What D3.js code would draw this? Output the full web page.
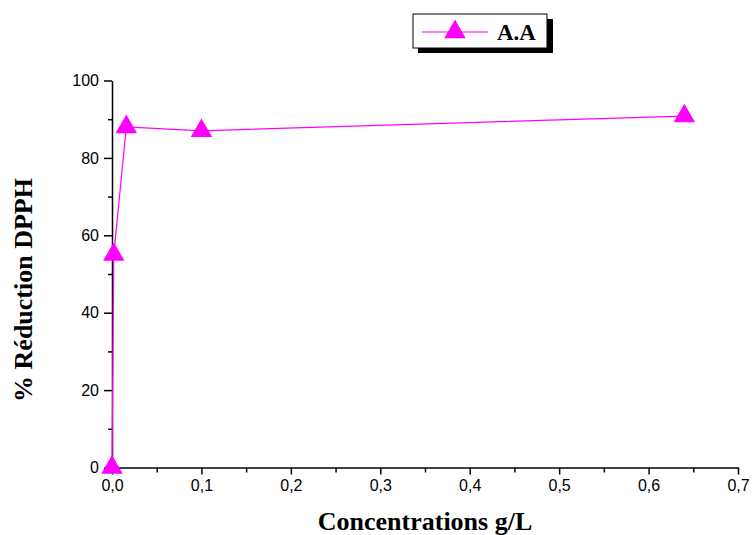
<!doctype html>
<html lang="en">
<head>
    <meta charset="utf-8">
    <title>DPPH</title>
    <script src="https://cdn.jsdelivr.net/npm/d3@7"></script>
    <style>
        body { margin: 0; background: #fff; }
        svg { display: block; }
        .tick text { font-family: Arial, "Liberation Sans", sans-serif; font-size: 16px; fill: #000; }
        .axis path, .axis line { stroke: #000; stroke-width: 1.5px; }
    </style>
</head>
<body>
    <svg width="753" height="535"></svg>
    <script>
        // data
        var concentrations = [0, 0.002, 0.016, 0.1, 0.64];
        var reduction = [0, 55, 88, 87, 90.8];
        var seriesName = "A.A";
        var xTicks = [0, 0.1, 0.2, 0.3, 0.4, 0.5, 0.6, 0.7];
        var yTicks = [0, 20, 40, 60, 80, 100];

        var magenta = "#ff00ff";
        var svg = d3.select("svg");

        var x = d3.scaleLinear().domain([0, 0.7]).range([112, 738]);
        var y = d3.scaleLinear().domain([0, 100]).range([467.5, 80.5]);

        var fmtX = function (d) { return d3.format(".1f")(d).replace(".", ","); };

        // minor ticks
        svg.append("g")
            .attr("class", "axis")
            .attr("transform", "translate(0," + y(0) + ")")
            .call(d3.axisBottom(x).tickValues(d3.range(0.05, 0.7, 0.1)).tickSize(5).tickFormat(""))
            .select(".domain").remove();
        svg.append("g")
            .attr("class", "axis")
            .attr("transform", "translate(" + x(0) + ",0)")
            .call(d3.axisLeft(y).tickValues(d3.range(10, 100, 20)).tickSize(4).tickFormat(""))
            .select(".domain").remove();

        // x-axis
        svg.append("g")
            .attr("class", "axis")
            .attr("transform", "translate(0," + y(0) + ")")
            .call(d3.axisBottom(x).tickValues(xTicks).tickSizeInner(7).tickSizeOuter(0).tickPadding(5).tickFormat(fmtX));

        // y-axis
        svg.append("g")
            .attr("class", "axis")
            .attr("transform", "translate(" + x(0) + ",0)")
            .call(d3.axisLeft(y).tickValues(yTicks).tickSizeInner(8).tickSizeOuter(0).tickPadding(5));

        var pts = concentrations.map(function (c, i) { return [c, reduction[i]]; });

        svg.append("path")
            .datum(pts)
            .attr("fill", "none")
            .attr("stroke", magenta)
            .attr("stroke-width", 1.2)
            .attr("d", d3.line().x(function (d) { return x(d[0]); }).y(function (d) { return y(d[1]); }));

        var tri = d3.symbol().type(d3.symbolTriangle).size(200);

        svg.append("g")
            .selectAll("path")
            .data(pts)
            .enter()
            .append("path")
            .attr("d", tri)
            .attr("transform", function (d) { return "translate(" + x(d[0]) + "," + y(d[1]) + ")"; })
            .attr("fill", magenta);

        // axis titles
        svg.append("text")
            .attr("x", 425)
            .attr("y", 530)
            .attr("text-anchor", "middle")
            .attr("font-family", "'Liberation Serif', 'Times New Roman', serif")
            .attr("font-weight", "bold")
            .attr("font-size", 26)
            .text("Concentrations g/L");

        svg.append("text")
            .attr("transform", "translate(32,290) rotate(-90)")
            .attr("text-anchor", "middle")
            .attr("font-family", "'Liberation Serif', 'Times New Roman', serif")
            .attr("font-weight", "bold")
            .attr("font-size", 26)
            .text("% Réduction DPPH");

        // legend
        var legend = svg.append("g");
        legend.append("rect").attr("x", 547).attr("y", 19).attr("width", 6).attr("height", 34).attr("fill", "#000");
        legend.append("rect").attr("x", 418).attr("y", 48).attr("width", 135).attr("height", 5).attr("fill", "#000");
        legend.append("rect")
            .attr("x", 413).attr("y", 14).attr("width", 134).attr("height", 34)
            .attr("fill", "#fff").attr("stroke", "#000").attr("stroke-width", 1);
        legend.append("line")
            .attr("x1", 422).attr("x2", 488).attr("y1", 32).attr("y2", 32)
            .attr("stroke", magenta).attr("stroke-width", 1.2);
        legend.append("path")
            .attr("d", tri)
            .attr("transform", "translate(455,32)")
            .attr("fill", magenta);
        legend.append("text")
            .attr("x", 497)
            .attr("y", 40)
            .attr("font-family", "'Liberation Serif', 'Times New Roman', serif")
            .attr("font-weight", "bold")
            .attr("font-size", 23)
            .text(seriesName);
    </script>
</body>
</html>
